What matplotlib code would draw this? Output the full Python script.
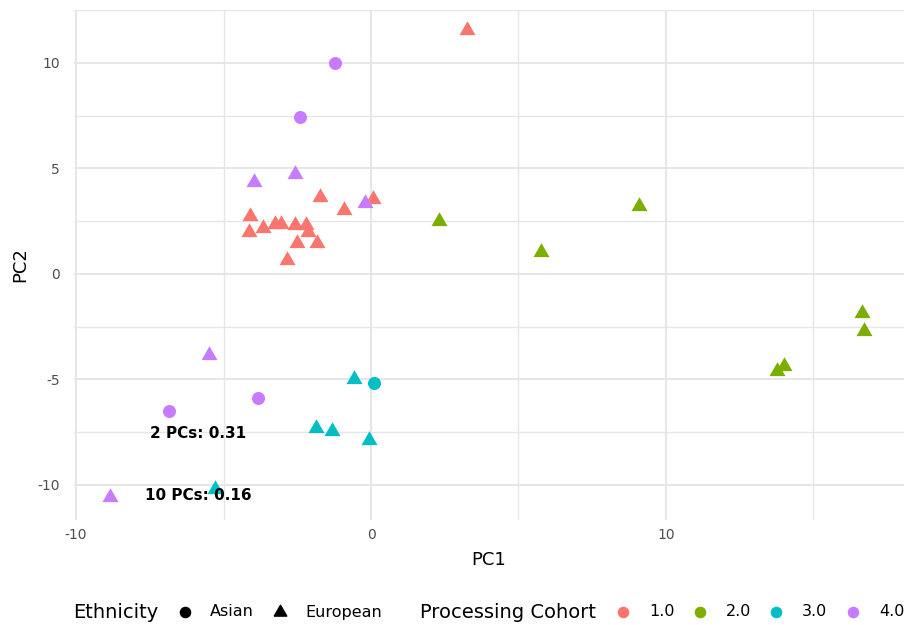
"""PCA scatter of samples coloured by processing cohort, shaped by ethnicity."""

import matplotlib

matplotlib.use("Agg")
import matplotlib.pyplot as plt
import numpy as np
from matplotlib.lines import Line2D
from matplotlib.ticker import MultipleLocator

plt.rcParams["font.family"] = ["DejaVu Sans"]
plt.rcParams["axes.unicode_minus"] = False

COHORT_COLORS = {1: "#F8766D", 2: "#7CAE00", 3: "#00BFC4", 4: "#C77CFF"}
GRID_COLOR = "#e6e6e6"
TEXT_GRAY = "#4d4d4d"

# sample scores on the first two principal components
pc1 = [
    3.25, -4.10, -4.14, -3.66, -3.25, -3.05, -2.58, -2.20, -2.14, -2.50,
    -1.83, -2.85, -1.73, -0.92, 0.07,
    2.31, 9.08, 5.76, 16.64, 16.71, 13.76, 14.00,
    -0.58, 0.10, -1.86, -1.32, -0.07, -5.29,
    -1.22, -2.41, -3.97, -2.58, -0.20, -5.49, -6.85, -3.83, -8.85,
]
pc2 = [
    11.54, 2.77, 1.97, 2.20, 2.39, 2.39, 2.34, 2.34, 2.01, 1.49,
    1.49, 0.68, 3.67, 3.01, 3.53,
    2.53, 3.20, 1.06, -1.83, -2.72, -4.62, -4.34,
    -5.00, -5.17, -7.32, -7.42, -7.89, -10.21,
    10.00, 7.44, 4.38, 4.76, 3.34, -3.82, -6.50, -5.88, -10.59,
]
cohort = [1] * 15 + [2] * 7 + [3] * 6 + [4] * 9
ethnicity = (
    ["European"] * 15
    + ["European"] * 7
    + ["European", "Asian", "European", "European", "European", "European"]
    + ["Asian", "Asian", "European", "European", "European", "European", "Asian", "Asian", "European"]
)

ethnicity_levels = ["Asian", "European"]
cohort_levels = [1, 2, 3, 4]

annotations = ["2 PCs: 0.31", "10 PCs: 0.16"]
annotation_x = [-5.86, -5.86]
annotation_y = [-7.58, -10.52]

# equilateral triangle, centred on its centroid
TRIANGLE = [(-1.0, -0.577), (1.0, -0.577), (0.0, 1.155), (-1.0, -0.577)]
SHAPES = {"Asian": ("o", 88), "European": (TRIANGLE, 178)}

fig = plt.figure(figsize=(9.08, 6.25), dpi=100)
ax = fig.add_axes([74 / 908, 1 - 520 / 625, 830 / 908, 510 / 625])

pc1 = np.array(pc1)
pc2 = np.array(pc2)
cohort = np.array(cohort)
ethnicity = np.array(ethnicity)

for i in range(len(pc1)):
    marker, size = SHAPES[ethnicity[i]]
    ax.scatter(
        pc1[i], pc2[i], marker=marker, s=size,
        color=COHORT_COLORS[cohort[i]], linewidths=0, zorder=3,
    )

for label, x, y in zip(annotations, annotation_x, annotation_y):
    ax.text(x, y, label, ha="center", va="center", fontsize=11,
            fontweight="bold", color="black", zorder=4)

ax.set_xlim(-10.07, 18.07)
ax.set_ylim(-11.66, 12.51)
ax.xaxis.set_major_locator(MultipleLocator(10))
ax.xaxis.set_minor_locator(MultipleLocator(5))
ax.yaxis.set_major_locator(MultipleLocator(5))
ax.yaxis.set_minor_locator(MultipleLocator(2.5))
ax.grid(which="major", color=GRID_COLOR, linewidth=1.4)
ax.grid(which="minor", color=GRID_COLOR, linewidth=1.0)
ax.set_axisbelow(True)
for spine in ax.spines.values():
    spine.set_visible(False)
ax.tick_params(which="both", length=0, labelsize=10, labelcolor=TEXT_GRAY)
ax.tick_params(axis="x", pad=6)
ax.tick_params(axis="y", pad=10)
ax.set_xlabel("PC1", fontsize=13, labelpad=6)
ax.set_ylabel("PC2", fontsize=13, labelpad=6)

# legends along the bottom edge
legend_y = 1 - 612 / 625
fig.text(73 / 908, legend_y, "Ethnicity", fontsize=14, va="center", ha="left")
eth_marker_x = [185, 280]
eth_label_x = [210, 305]
for level, mx, lx in zip(ethnicity_levels, eth_marker_x, eth_label_x):
    marker, size = SHAPES[level]
    fig.add_artist(Line2D([mx / 908], [legend_y], marker=marker, color="black",
                          markersize=np.sqrt(size) * 0.78, linestyle="none",
                          transform=fig.transFigure))
    fig.text(lx / 908, legend_y, level, fontsize=11.5, va="center", ha="left")

fig.text(420 / 908, legend_y, "Processing Cohort", fontsize=14, va="center", ha="left")
coh_marker_x = [623, 700, 776, 853]
for level, mx in zip(cohort_levels, coh_marker_x):
    fig.add_artist(Line2D([mx / 908], [legend_y], marker="o",
                          color=COHORT_COLORS[level], markersize=np.sqrt(88) * 0.78,
                          linestyle="none", transform=fig.transFigure))
    fig.text((mx + 26) / 908, legend_y, f"{level:.1f}", fontsize=11.5,
             va="center", ha="left")

fig.savefig("out.png", dpi=100)
